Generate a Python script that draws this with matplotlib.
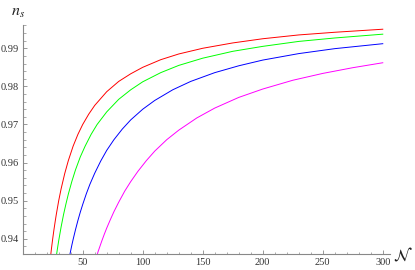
import matplotlib
matplotlib.use("Agg")
import matplotlib.pyplot as plt
from matplotlib.ticker import MultipleLocator

# ---- data (N, n_s) ----
red_N = [23, 24, 25, 26, 27, 28, 30, 32, 35, 38, 42, 46, 50, 55, 60, 70, 80, 90,
         100, 115, 130, 150, 175, 200, 230, 260, 300]
red_ns = [0.9348, 0.9375, 0.9400, 0.9423, 0.9444, 0.9464, 0.9500, 0.9531, 0.9571,
          0.9605, 0.9643, 0.9674, 0.9700, 0.9727, 0.9750, 0.9786, 0.9813, 0.9833,
          0.9850, 0.9870, 0.9885, 0.9900, 0.9914, 0.9925, 0.9935, 0.9942, 0.9950]

green_N = [28, 29, 30, 31, 32, 34, 36, 38, 41, 44, 48, 52, 57, 62, 70, 80, 90,
           100, 115, 130, 150, 175, 200, 230, 260, 300]
green_ns = [0.9354, 0.9375, 0.9395, 0.9413, 0.9431, 0.9463, 0.9491, 0.9517, 0.9551,
            0.9581, 0.9615, 0.9643, 0.9674, 0.9700, 0.9733, 0.9766, 0.9791, 0.9812,
            0.9836, 0.9855, 0.9874, 0.9892, 0.9905, 0.9918, 0.9927, 0.9937]

blue_N = [39, 40, 41, 42, 44, 46, 48, 50, 53, 56, 60, 65, 70, 76, 83, 90, 100,
          110, 125, 140, 160, 180, 200, 230, 260, 300]
blue_ns = [0.9354, 0.9369, 0.9384, 0.9398, 0.9424, 0.9448, 0.9470, 0.9490, 0.9518,
           0.9543, 0.9572, 0.9604, 0.9632, 0.9660, 0.9688, 0.9712, 0.9740, 0.9763,
           0.9791, 0.9813, 0.9836, 0.9854, 0.9869, 0.9886, 0.9899, 0.9912]

magenta_N = [62, 63, 64, 66, 68, 70, 73, 76, 80, 85, 90, 96, 103, 110, 120, 130,
             145, 160, 180, 200, 225, 250, 275, 300]
magenta_ns = [0.9358, 0.9368, 0.9377, 0.9395, 0.9412, 0.9428, 0.9450, 0.9471, 0.9496,
              0.9525, 0.9550, 0.9577, 0.9605, 0.9630, 0.9660, 0.9685, 0.9717, 0.9743,
              0.9771, 0.9793, 0.9816, 0.9834, 0.9849, 0.9862]

x_ticks = [50, 100, 150, 200, 250, 300]
y_ticks = [0.94, 0.95, 0.96, 0.97, 0.98, 0.99]

plt.rcParams['mathtext.fontset'] = 'stix'

fig = plt.figure(figsize=(4.15, 2.7), dpi=100)
ax = fig.add_axes([0.0547, 0.0593, 0.885, 0.848])

curves = [(red_N, red_ns, '#ff0000'), (green_N, green_ns, '#00ff00'),
          (blue_N, blue_ns, '#0000ff'), (magenta_N, magenta_ns, '#ff00ff')]
for xs, ys, col in curves:
    ax.plot(xs, ys, color=col, lw=0.7)

ax.set_xlim(0, 306)
ax.set_ylim(0.936, 0.9961)

# Mathematica-style axes
for s in ['top', 'right']:
    ax.spines[s].set_visible(False)
for s in ['left', 'bottom']:
    ax.spines[s].set_color('#888888')
    ax.spines[s].set_linewidth(0.8)

ax.set_xticks(x_ticks)
ax.set_xticklabels([str(v) for v in x_ticks])
ax.set_yticks(y_ticks)
ax.set_yticklabels([f"{v:.2f}" for v in y_ticks])
ax.xaxis.set_minor_locator(MultipleLocator(10))
ax.yaxis.set_minor_locator(MultipleLocator(0.002))
ax.tick_params(which='major', direction='in', length=3.2, width=0.6, color='#888888',
               labelsize=7.5, labelcolor='#333333', pad=3)
ax.tick_params(which='minor', direction='in', length=1.8, width=0.5, color='#888888')
for lab in ax.get_xticklabels() + ax.get_yticklabels():
    lab.set_family('Liberation Serif')

fig.text(0.0434, 0.952, r'$n_s$', fontsize=11.5, ha='center', va='center', color='#222222')
fig.text(0.971, 0.052, r'$\mathcal{N}$', fontsize=12, ha='center', va='center', color='#222222')

fig.savefig('out.png', dpi=100)
